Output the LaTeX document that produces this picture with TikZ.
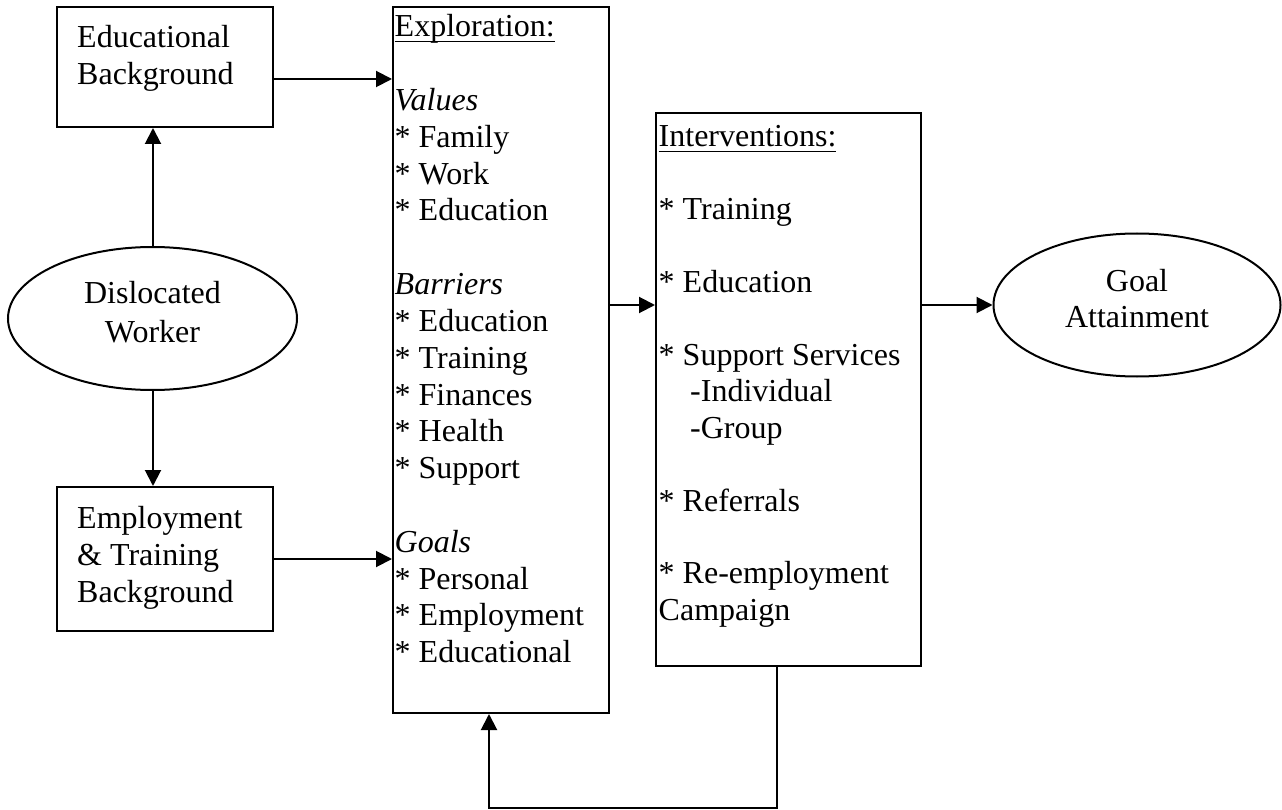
\documentclass[tikz,border=0pt]{standalone}
\usepackage{fontspec}
\setmainfont{Liberation Serif}
\usetikzlibrary{arrows.meta,shapes.geometric}
\newcommand\myul[1]{\setbox0\hbox{#1}\rlap{\rule[-5.4pt]{\wd0}{1.8pt}}\box0}
\begin{document}
\begin{tikzpicture}[x=1pt,y=-1pt,
  shapebox/.style={draw,line width=2pt,inner sep=0pt,rectangle},
  shapeell/.style={draw,line width=2pt,inner sep=0pt,ellipse},
  txt/.style={inner sep=0pt,anchor=base west,font=\fontsize{32}{36.7}\selectfont},
  ctxt/.style={inner sep=0pt,anchor=base,font=\fontsize{32}{36.7}\selectfont},
  conn/.style={line width=2pt,-{Triangle[length=16pt,width=16pt]}}]
\useasboundingbox (0,0) rectangle (1282,810);

% shapes
\node[shapebox,minimum width=216pt,minimum height=120pt] (eb) at (165,67) {};
\node[shapebox,minimum width=216pt,minimum height=144pt] (etb) at (165,559) {};
\node[shapeell,minimum width=289pt,minimum height=143pt] (dw) at (152.5,318.5) {};
\node[shapebox,minimum width=216pt,minimum height=706pt] (expl) at (501,360) {};
\node[shapebox,minimum width=265pt,minimum height=553pt] (int) at (788.5,389.5) {};
\node[shapeell,minimum width=287pt,minimum height=143pt] (goal) at (1137,305) {};

% texts in left boxes
\node[txt] (eb1) at (77,48) {Educational};
\node[txt] (eb2) at (77,85) {Background};
\node[txt] (etb1) at (77,528) {Employment};
\node[txt] (etb2) at (77,565) {\& Training};
\node[txt] (etb3) at (77,602) {Background};
\node[ctxt] (dw1) at (152.5,304) {Dislocated};
\node[ctxt] (dw2) at (152.5,342) {Worker};
\node[ctxt] (g1) at (1137,291) {Goal};
\node[ctxt] (g2) at (1137,327) {Attainment};

% exploration
\foreach \k/\t in {0/{\myul{Exploration:}},2/{\textit{Values}},3/{* Family},4/{* Work},5/{* Education},
  7/{\textit{Barriers}},8/{* Education},9/{* Training},10/{* Finances},11/{* Health},12/{* Support},
  14/{\textit{Goals}},15/{* Personal},16/{* Employment},17/{* Educational}}
  \node[txt] (ex\k) at (394.5,{37+\k*36.8}) {\t};

% interventions
\foreach \k/\t in {0/{\myul{Interventions:}},2/{* Training},4/{* Education},6/{* Support Services},
  10/{* Referrals},12/{* Re-employment},13/{Campaign}}
  \node[txt] (in\k) at (658.5,{147+\k*36.4}) {\t};
\node[txt] (in7) at (690,{147+7*36.4}) {-Individual};
\node[txt] (in8) at (690,{147+8*36.4}) {-Group};

% connectors
\draw[conn] (dw.north -| 153,0) -- (153,0 |- eb.south);
\draw[conn] (dw.south -| 153,0) -- (153,0 |- etb.north);
\draw[conn] ([yshift=-12pt]eb.east) -- (expl.west |- {0,79});
\draw[conn] (etb.east) -- (etb.east -| expl.west);
\draw[conn] (expl.east |- goal.west) -- (int.west |- goal.west);
\draw[conn] (int.east |- goal.west) -- (goal.west);
\draw[conn] ([xshift=-11.5pt]int.south) -- ++(0,141) -| ([xshift=-12pt]expl.south);
\end{tikzpicture}
\end{document}
